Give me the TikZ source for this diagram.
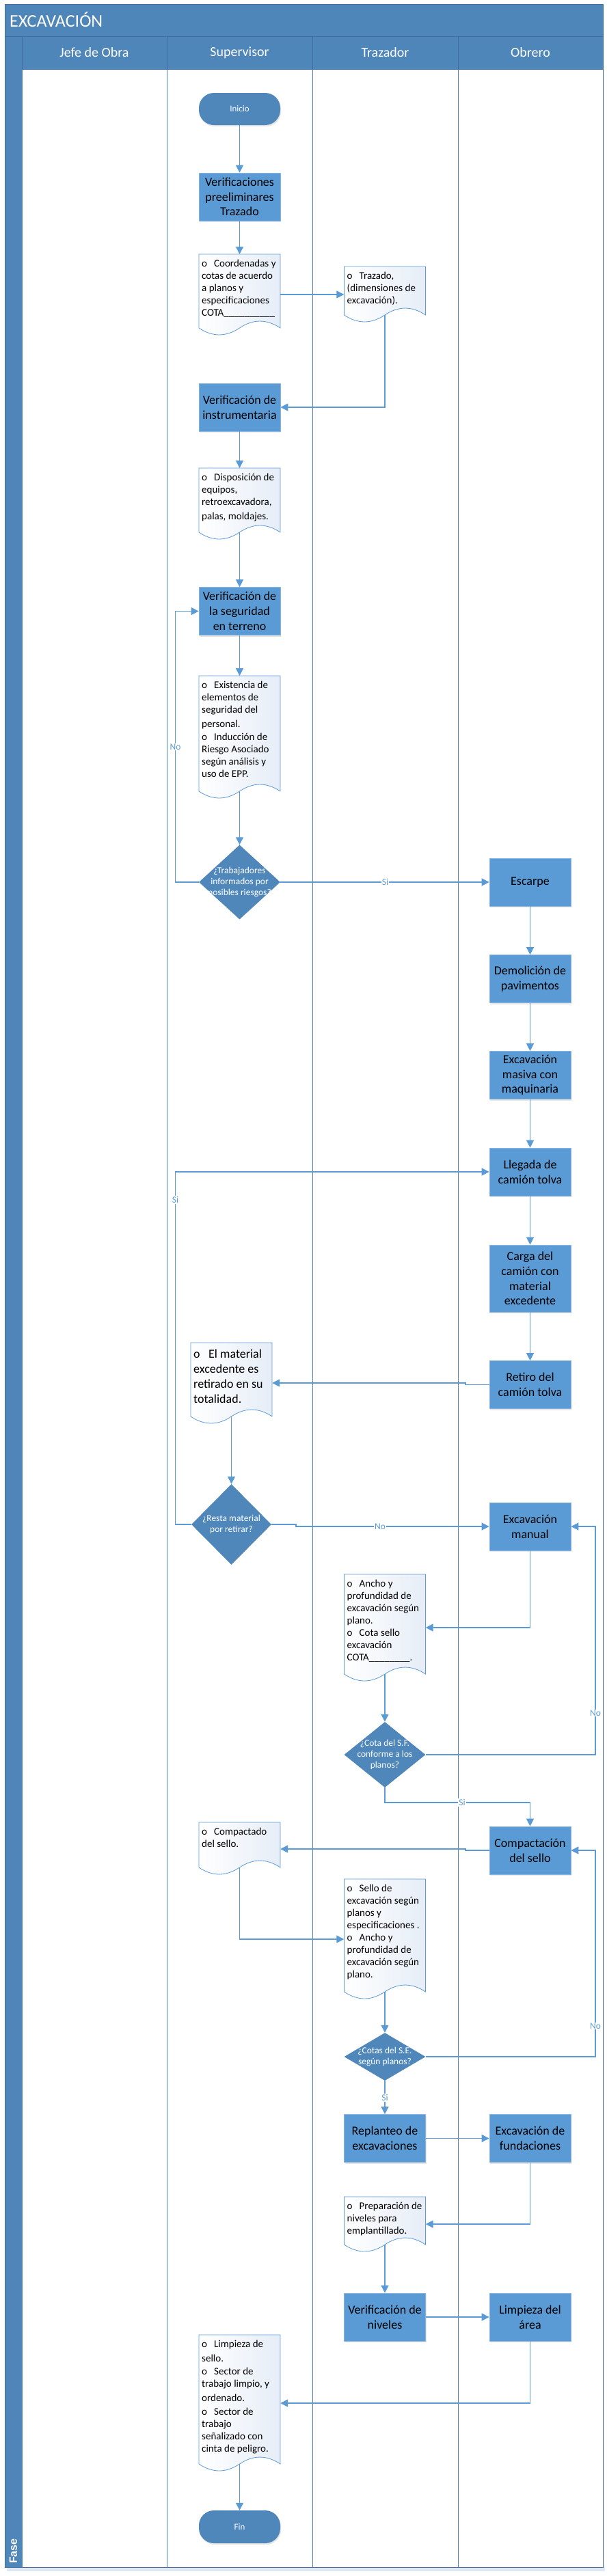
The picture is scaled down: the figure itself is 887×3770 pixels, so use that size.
\documentclass[tikz,border=0pt]{standalone}
\usepackage{fontspec}
\setmainfont{Carlito}
\newfontfamily\fasefont{Liberation Sans}
\usetikzlibrary{shapes.geometric,shapes.misc,arrows.meta,shadows,calc}
\definecolor{hdr}{HTML}{4F86BA}
\definecolor{hdrline}{HTML}{3F6FA0}
\definecolor{proc}{HTML}{5B9BD5}
\definecolor{dec}{HTML}{4F87BB}
\definecolor{conn}{HTML}{5B9BD5}
\definecolor{lane}{HTML}{4F81BD}
\definecolor{docgrad}{HTML}{E6EDF7}
\newcommand{\dbul}{\makebox[18pt][l]{o}}
\newcommand{\dbulL}{\makebox[22pt][l]{o}}
\tikzset{
  procbox/.style={rectangle, fill=proc, draw=proc!75!white, line width=0.7pt,
    minimum width=119pt, minimum height=70pt, inner sep=1pt, align=center,
    font=\fontsize{18}{21.7}\selectfont, text=black,
    drop shadow={shadow xshift=1.2pt, shadow yshift=-2.2pt, opacity=0.2}},
  termbox/.style={rectangle, rounded corners=22pt, fill=dec, minimum width=119pt,
    minimum height=47pt, font=\fontsize{13}{16}\selectfont, text=white,
    drop shadow={shadow xshift=1.2pt, shadow yshift=-2.2pt, opacity=0.2}},
  decbox/.style={diamond, fill=dec, inner sep=0pt, minimum width=119pt},
  dectext/.style={align=center, text=white, font=\fontsize{13.5}{16}\selectfont, inner sep=0pt},
  docarea/.style={rectangle, inner sep=0pt, minimum width=119pt},
  doctext/.style={anchor=north west, align=left, inner sep=0pt, font=\fontsize{15}{18}\selectfont},
  docline/.style={draw=conn, line width=0.8pt, left color=white, right color=docgrad},
  flow/.style={draw=conn, line width=1.3pt, -{Triangle[length=11pt,width=11pt]}},
  lbl/.style={fill=white, text=conn, inner sep=1pt, font=\fontsize{13.5}{16}\selectfont},
  hdrtext/.style={text=white, font=\fontsize{20}{24}\selectfont, inner sep=0pt},
  laneline/.style={draw=lane, line width=0.8pt},
  hdrsep/.style={draw=hdrline, line width=0.9pt},
}
% #1 options, #2 name, #3 cx, #4 top, #5 height to wave line, #6 text
\newcommand{\docshape}[6][]{%
  \path[docline] ({#3-59.5},#4) -- ({#3+59.5},#4) -- ({#3+59.5},{#4+#5})
    .. controls ({#3+39.7},{#4+#5-13.3}) and ({#3+19.8},{#4+#5-13.3}) .. ({#3},{#4+#5})
    .. controls ({#3-19.8},{#4+#5+13.3}) and ({#3-39.7},{#4+#5+13.3}) .. ({#3-59.5},{#4+#5}) -- cycle;
  \node[docarea, minimum height=#5pt, anchor=north] (#2) at (#3,#4) {};
  \node[doctext,#1] (#2t) at ({#3-55.5},{#4+8}) {#6};
}
\begin{document}
\begin{tikzpicture}[x=1pt,y=-1pt]
\useasboundingbox (0,0) rectangle (887,3770);
% ---------- frame ----------
\fill[hdr!18] (10,3757) rectangle (885,3763);
\fill[white] (7,6) rectangle (882,3757);
\fill[hdr] (7,6) rectangle (882,101);
\fill[hdr] (7,101) rectangle (32,3757);
\draw[laneline] (244,101) -- (244,3757);
\draw[laneline] (457,101) -- (457,3757);
\draw[laneline] (670,101) -- (670,3757);
\draw[laneline] (32,101) -- (32,3757);
\draw[hdrsep] (7,53) -- (882,53);
\draw[hdrsep] (32,101) -- (882,101);
\draw[hdrsep] (32,53) -- (32,101);
\draw[hdrsep] (244,53) -- (244,101);
\draw[hdrsep] (457,53) -- (457,101);
\draw[hdrsep] (670,53) -- (670,101);
\draw[draw=hdrline, line width=1pt] (7,6) rectangle (882,3757);
\node[anchor=west, text=white, font=\fontsize{26}{30}\selectfont, inner sep=0pt] (title) at (14,29) {EXCAVACIÓN};
\node[hdrtext] (hJefe) at (138,77) {Jefe de Obra};
\node[hdrtext] (hSup) at (350.5,77) {Supervisor};
\node[hdrtext] (hTra) at (563.5,77) {Trazador};
\node[hdrtext] (hObr) at (776,77) {Obrero};
\node[rotate=90, anchor=west, text=white, inner sep=0pt, font=\fasefont\bfseries\fontsize{16}{18}\selectfont] (fase) at (19.5,3752) {Fase};
% ---------- helper coordinates ----------
\coordinate (fbx) at (256.5,0);
\coordinate (jogx) at (681,0);
\coordinate (jog2) at (433,0);
\coordinate (rx) at (871,0);
\coordinate (c431) at (0,431);
\coordinate (c2024) at (0,2024);
\coordinate (c2382) at (0,2382);
\coordinate (c2638) at (0,2638);
\coordinate (c2706) at (0,2706);
\coordinate (c2838) at (0,2838);
\coordinate (c3255) at (0,3255);
\coordinate (c3517) at (0,3517);
% ---------- documents ----------
\docshape{doc1}{350.5}{372}{108}{\dbul Coordenadas y\\cotas de acuerdo\\a planos y\\especificaciones\\COTA\_\_\_\_\_\_\_\_\_\_}
\docshape{doc2}{563}{390}{71}{\dbul Trazado,\\(dimensiones de\\excavación).}
\docshape{doc3}{350.5}{685}{94}{\dbul Disposición de\\equipos,\\retroexcavadora,\\[3pt]palas, moldajes.}
\docshape{doc4}{350.5}{989}{169}{\dbul Existencia de\\elementos de\\seguridad del\\[3pt]personal.\\[1pt]\dbul Inducción de\\Riesgo Asociado\\según análisis y\\uso de EPP.}
\docshape[font=\fontsize{18}{22}\selectfont, yshift=-2pt]{doc5}{338.5}{1965}{108}{\dbulL El material\\excedente es\\retirado en su\\totalidad.}
\docshape{doc6}{563}{2304}{146}{\dbul Ancho y\\profundidad de\\excavación según\\plano.\\\dbul Cota sello\\excavación\\COTA\_\_\_\_\_\_\_\_.}
\docshape{doc7}{350.5}{2667}{66}{\dbul Compactado\\del sello.}
\docshape{doc8}{563}{2750}{165}{\dbul Sello de\\excavación según\\planos y\\especificaciones .\\\dbul Ancho y\\profundidad de\\excavación según\\plano.}
\docshape{doc9}{563}{3215}{70}{\dbul Preparación de\\niveles para\\emplantillado.}
\docshape{doc10}{350.5}{3417}{189}{\dbul Limpieza de\\[2.5pt]sello.\\[1.5pt]\dbul Sector de\\trabajo limpio, y\\[2.5pt]ordenado.\\[2pt]\dbul Sector de\\trabajo\\señalizado con\\cinta de peligro.}
% ---------- terminators ----------
\node[termbox] (inicio) at (350.5,159.5) {Inicio};
\node[termbox, minimum height=48pt] (fin) at (350.5,3698) {Fin};
% ---------- process boxes ----------
\node[procbox] (b1) at (350.5,288) {Verificaciones\\preeliminares\\Trazado};
\node[procbox] (b2) at (350.5,596) {Verificación de\\instrumentaria};
\node[procbox] (b3) at (350.5,894.5) {Verificación de\\la seguridad\\en terreno};
\node[procbox] (escarpe) at (775.5,1291) {Escarpe};
\node[procbox] (demol) at (775.5,1432.5) {Demolición de\\pavimentos};
\node[procbox] (masiva) at (775.5,1573.5) {Excavación\\masiva con\\maquinaria};
\node[procbox] (llegada) at (775.5,1715) {Llegada de\\camión tolva};
\node[procbox, minimum height=98pt] (carga) at (775.5,1871) {Carga del\\camión con\\material\\excedente};
\node[procbox] (retiro) at (775.5,2026.5) {Retiro del\\camión tolva};
\node[procbox] (manual) at (775.5,2234) {Excavación\\manual};
\node[procbox] (compact) at (775.5,2708) {Compactación\\del sello};
\node[procbox] (replanteo) at (563,3129.5) {Replanteo de\\excavaciones};
\node[procbox] (fund) at (775.5,3129.5) {Excavación de\\fundaciones};
\node[procbox] (veriniv) at (563,3391) {Verificación de\\niveles};
\node[procbox] (limpieza) at (775.5,3391) {Limpieza del\\área};
% ---------- decisions ----------
\node[decbox, minimum height=109pt] (d1) at (350.5,1291) {};
\node[dectext] (d1t) at (d1) {¿Trabajadores\\informados por\\posibles riesgos?};
\node[decbox, minimum width=117pt, minimum height=118pt] (d2) at (338.5,2231) {};
\node[dectext] (d2t) at (d2) {¿Resta material\\por retirar?};
\node[decbox, minimum height=96pt] (d3) at (563,2568) {};
\node[dectext] (d3t) at (d3) {¿Cota del S.F.\\conforme a los\\planos?};
\node[decbox, minimum height=70pt] (d4) at (563,3010) {};
\node[dectext] (d4t) at (d4) {¿Cotas del S.E.\\según planos?};
% ---------- connectors ----------
\draw[flow] (inicio.south) -- (b1.north);
\draw[flow] (b1.south) -- (doc1.north);
\draw[flow] (doc1.east |- c431) -- (doc2.west |- c431);
\draw[flow] (doc2.south) |- (b2.east);
\draw[flow] (b2.south) -- (doc3.north);
\draw[flow] (doc3.south) -- (b3.north);
\draw[flow] (b3.south) -- (doc4.north);
\draw[flow] (doc4.south) -- (d1.north);
\draw[flow] (d1.west) -- (d1.west -| fbx) |- (b3.west);
\draw[flow] (d1.east) -- (escarpe.west);
\draw[flow] (escarpe.south) -- (demol.north);
\draw[flow] (demol.south) -- (masiva.north);
\draw[flow] (masiva.south) -- (llegada.north);
\draw[flow] (llegada.south) -- (carga.north);
\draw[flow] (carga.south) -- (retiro.north);
\draw[flow] (retiro.west) -- (retiro.west -| jogx) -- (jogx |- c2024) -- (doc5.east |- c2024);
\draw[flow] (doc5.south) -- (d2.north);
\draw[flow] (d2.west) -- (d2.west -| fbx) |- (llegada.west);
\draw[flow] (d2.east) -- (d2.east -| jog2) -- (jog2 |- manual.west) -- (manual.west);
\draw[flow] (manual.south) |- (doc6.east |- c2382);
\draw[flow] (doc6.south) -- (d3.north);
\draw[flow] (d3.east) -- (d3.east -| rx) |- (manual.east);
\draw[flow] (d3.south) -- (d3.south |- c2638) -| (compact.north);
\draw[flow] (compact.west) -- (compact.west -| jogx) -- (jogx |- c2706) -- (doc7.east |- c2706);
\draw[flow] (doc7.south) |- (doc8.west |- c2838);
\draw[flow] (doc8.south) -- (d4.north);
\draw[flow] (d4.east) -- (d4.east -| rx) |- (compact.east);
\draw[flow] (d4.south) -- (replanteo.north);
\draw[flow] (replanteo.east) -- (fund.west);
\draw[flow] (fund.south) |- (doc9.east |- c3255);
\draw[flow] (doc9.south) -- (veriniv.north);
\draw[flow] (veriniv.east) -- (limpieza.west);
\draw[flow] (limpieza.south) |- (doc10.east |- c3517);
\draw[flow] (doc10.south) -- (fin.north);
% ---------- labels ----------
\node[lbl] (lNo1) at (256.5,1093) {No};
\node[lbl] (lSi1) at (563.5,1291) {Si};
\node[lbl] (lSi2) at (256.5,1756) {Si};
\node[lbl] (lNo2) at (556,2234) {No};
\node[lbl] (lNo3) at (871,2507) {No};
\node[lbl] (lSi3) at (676,2638) {Si};
\node[lbl] (lNo4) at (871,2965) {No};
\node[lbl] (lSi4) at (563,3070) {Si};
\end{tikzpicture}
\end{document}
